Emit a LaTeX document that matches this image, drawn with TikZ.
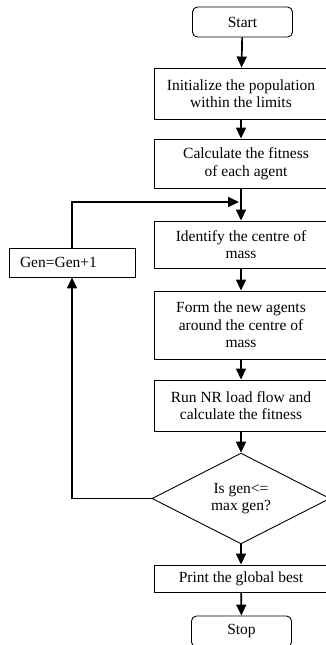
\documentclass[tikz,border=0pt]{standalone}
\usepackage{fontspec}
\setmainfont{Liberation Serif}
\usetikzlibrary{shapes.geometric,arrows.meta}

\begin{document}
\begin{tikzpicture}[x=1pt,y=-1pt,
    box/.style={draw,line width=0.9pt,minimum width=174pt,align=center,inner sep=1pt,font=\fontsize{15.5}{17.5}\selectfont},
    term/.style={box,rounded corners=5pt,minimum width=100pt,minimum height=30pt},
    decide/.style={draw,diamond,line width=0.9pt,minimum width=178pt,minimum height=85pt,inner sep=0pt,align=center,font=\fontsize{15.5}{17.5}\selectfont},
    arr/.style={line width=1.7pt,-{Triangle[length=11pt,width=10pt]}}]
    \useasboundingbox (0,0) rectangle (326,645);
    \clip (0,0) rectangle (326,645);

    % Terminals
    \node[term] (start) at (242.5,22) {Start};
    \node[term,minimum height=31pt] (stop) at (241.5,631.5) {Stop};

    % Process boxes
    \node[box,minimum height=51pt] (init) at (241,93.5) {Initialize the population\\within the limits};
    \node[box,minimum height=49pt] (calc) at (241,163.5) {\hspace*{10pt}Calculate the fitness\\\hspace*{10pt}of each agent};
    \node[box,minimum height=47pt] (ident) at (241,244.5) {Identify the centre of\\mass};
    \node[box,minimum height=68pt] (form) at (241,325) {Form the new agents\\around the centre of\\mass};
    \node[box,minimum height=51pt] (run) at (241,405.5) {Run NR load flow and\\calculate the fitness};
    \node[decide] (dec) at (241,498.5) {Is gen<=\\max gen?};
    \node[box,minimum height=27pt] (print) at (241,578.5) {Print the global best};

    % Counter
    \node[box,minimum width=126pt,minimum height=29pt,text width=104pt,align=left,inner xsep=11pt] (gen) at (72,262.5) {Gen=Gen+1};
    \coordinate (join) at (241,202);

    % Main flow
    \draw[arr] (start) -- (init);
    \draw[arr] (init) -- (calc);
    \draw[arr] (calc) -- (ident);
    \draw[arr] (ident) -- (form);
    \draw[arr] (form) -- (run);
    \draw[arr] (run) -- (dec);
    \draw[arr] (dec) -- (print);
    \draw[arr] (print) -- (stop);

    % Loop back
    \draw[arr] (dec.west) -| (gen.south);
    \draw[arr,shorten >=2pt] (gen.north) |- (join);
\end{tikzpicture}
\end{document}
